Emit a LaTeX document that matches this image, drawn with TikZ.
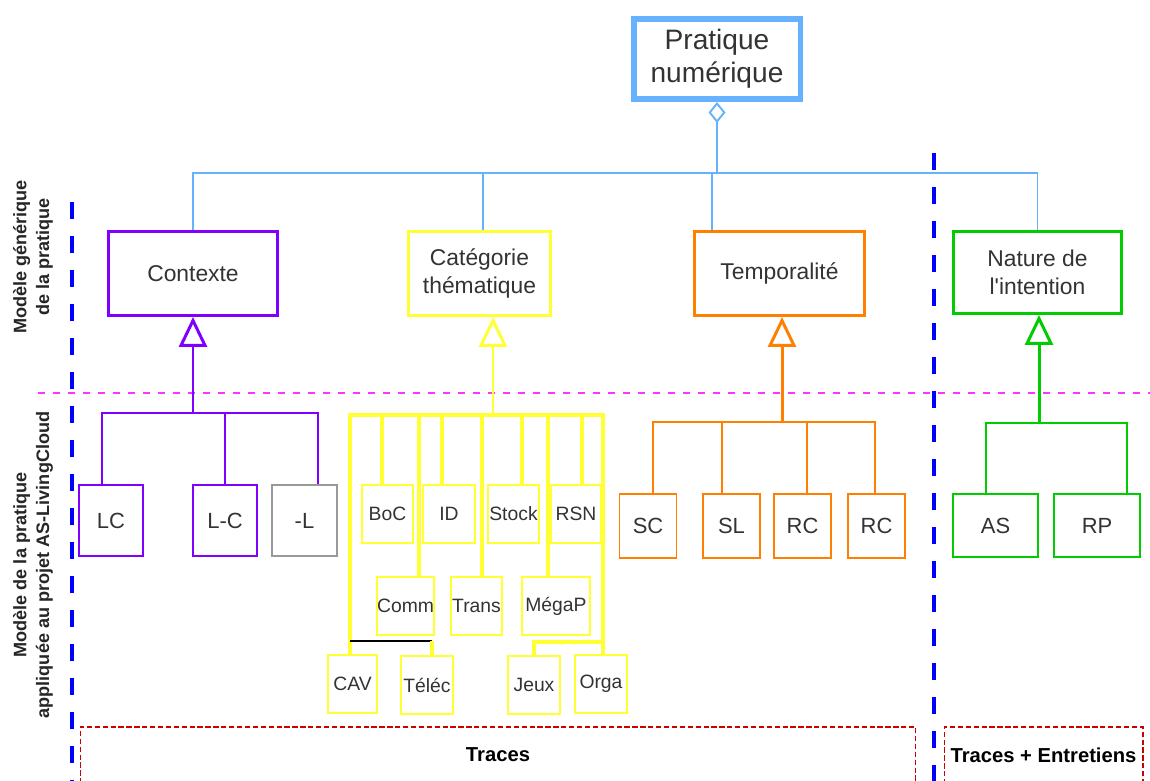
\documentclass[tikz,border=0pt]{standalone}
\usepackage{fontspec}
\setmainfont{Liberation Sans}[Ligatures=TeXOff]
\usetikzlibrary{positioning, arrows.meta}

\definecolor{linkblue}{RGB}{102,178,255}
\definecolor{ctxpurple}{RGB}{127,0,255}
\definecolor{catyellow}{RGB}{255,255,51}
\definecolor{tmporange}{RGB}{255,128,0}
\definecolor{natgreen}{RGB}{0,204,0}
\definecolor{sepblue}{RGB}{0,0,255}
\definecolor{sepmagenta}{RGB}{255,51,255}
\definecolor{tracered}{RGB}{204,0,0}
\definecolor{txtgray}{RGB}{51,51,51}

\begin{document}
\begin{tikzpicture}[
        x=0.02cm, y=-0.02cm,
        box/.style={rectangle, draw, fill=white, inner sep=0pt, text=txtgray, align=center},
        topbox/.style={box, draw=linkblue, line width=3.4pt, minimum width=3.34cm, minimum height=1.6cm, font=\fontsize{16}{19}\selectfont},
        catbox/.style={box, line width=1.7pt, minimum height=1.68cm, font=\fontsize{13}{16}\selectfont},
        subbox/.style={box, line width=0.7pt, font=\fontsize{12.5}{15}\selectfont},
        ybox/.style={box, draw=catyellow, line width=0.8pt, minimum height=1.16cm, font=\fontsize{11}{13}\selectfont},
        tracebox/.style={rectangle, draw=tracered, dash pattern=on 3pt off 1.5pt, line width=0.6pt, inner sep=0pt, font=\bfseries\fontsize{11.5}{14}\selectfont},
        sidelabel/.style={rotate=90, align=center, text=black!85, font=\bfseries\fontsize{10.3}{13}\selectfont},
        bline/.style={draw=linkblue, line width=1.1pt},
        agg/.style={bline, -{Diamond[open, length=0.42cm, width=0.34cm]}},
        gen/.style={line width=1.7pt, -{Triangle[open, length=0.6cm, width=0.56cm]}},
        tree/.style={line width=1.1pt},
        yline/.style={draw=catyellow, line width=1.9pt},
        sepline/.style={draw=sepblue, line width=2.6pt, dash pattern=on 0.34cm off 0.34cm},
        midline/.style={draw=sepmagenta, line width=1.2pt, dash pattern=on 0.15cm off 0.15cm}
    ]
        \useasboundingbox (0,0) rectangle (1150,781);

        % Separators
        \draw[midline] (38,393) -- (1150,393);
        \draw[sepline] (72,202) -- (72,781);
        \draw[sepline] (934,153) -- (934,781);

        % Side labels
        \node[sidelabel] (genlabel) at (33,257) {Modèle générique\\de la pratique};
        \node[sidelabel] (applabel) at (33,565) {Modèle de la pratique\\appliquée au projet AS-LivingCloud};

        % Root
        \node[topbox] (top) at (717,59) {Pratique\\numérique};

        % Generic model
        \node[catbox, draw=ctxpurple, minimum width=3.38cm] (ctx) at (193,273.5) {Contexte};
        \node[catbox, draw=catyellow, minimum width=2.84cm] (cat) at (479.5,273.5) {Catégorie\\thématique};
        \node[catbox, draw=tmporange, minimum width=3.4cm] (tmp) at (779.5,273.5) {Temporalité};
        \node[catbox, draw=natgreen, minimum width=3.36cm, minimum height=1.64cm] (nat) at (1037.5,272.5) {Nature de\\l'intention};

        % Aggregation to the root
        \coordinate (topbus) at (717,173);
        \draw[agg] (topbus) -- (top.south);
        \draw[bline] (topbus) -| (ctx.north);
        \draw[bline] (topbus) -| ([xshift=0.07cm]cat.north);
        \draw[bline] (topbus) -| ([xshift=-1.35cm]tmp.north);
        \draw[bline] (topbus) -| (nat.north);

        % Contexte children
        \node[subbox, draw=ctxpurple, minimum width=1.28cm, minimum height=1.42cm] (lc) at (111,520.5) {LC};
        \node[subbox, draw=ctxpurple, minimum width=1.28cm, minimum height=1.42cm] (lmc) at (225,520.5) {L-C};
        \node[subbox, draw=black!40, minimum width=1.3cm, minimum height=1.42cm] (ml) at (304.5,520.5) {-L};
        \coordinate (ctxbus) at (193,413);
        \draw[gen, draw=ctxpurple] (ctxbus) -- (ctx.south);
        \foreach \nm/\dx in {lc/-9, lmc/0, ml/13.5} {
            \draw[tree, draw=ctxpurple] (ctxbus) -| ([xshift=\dx*0.02cm]\nm.north);
        }

        % Categorie children
        \foreach \nm/\x/\y/\w/\txt in {boc/387.5/514/51/BoC, id/449/514/52/ID, stock/513.5/514/51/Stock,
            rsn/576/514/50/RSN, comm/405.5/606/57/Comm, trans/476.5/606/51/Trans, megap/556/606/68/MégaP,
            cav/352.5/684/49/CAV, telec/427/685/52/Téléc, jeux/534/685/52/Jeux, orga/601/684/52/Orga} {
            \node[ybox, minimum width=\w*0.02cm] (\nm) at (\x,\y) {\txt};
        }
        \coordinate (catbus) at (493,415);
        \draw[gen, draw=catyellow] (catbus) -- (catbus |- cat.south);
        \foreach \nm/\dx in {boc/-5.5, comm/13.5, id/-7, trans/5.5, stock/8.5, megap/-8, rsn/6, cav/-2.5, orga/2} {
            \draw[yline] (catbus) -| ([xshift=\dx*0.02cm]\nm.north);
        }
        \coordinate (telbend) at (350,641);
        \coordinate (telturn) at (432,641);
        \draw[yline] (catbus) -| (telbend);
        \draw[line width=1.6pt] (telbend) -- (telturn);
        \draw[yline] (telturn) -- (telturn |- telec.north);
        \coordinate (jeuxbend) at (603,642);
        \draw[yline] (catbus) -| (jeuxbend) -| (jeux.north);

        % Temporalite children
        \foreach \nm/\x/\txt in {sc/648/SC, sl/731.5/SL, rca/802.5/RC, rcb/876.5/RC} {
            \node[subbox, draw=tmporange, minimum width=1.14cm, minimum height=1.28cm] (\nm) at (\x,526) {\txt};
        }
        \coordinate (tmpbus) at (782,422);
        \draw[gen, draw=tmporange] (tmpbus) -- (tmpbus |- tmp.south);
        \foreach \nm/\dx in {sc/5, sl/-9.5, rca/4.5, rcb/-1.5} {
            \draw[tree, draw=tmporange] (tmpbus) -| ([xshift=\dx*0.02cm]\nm.north);
        }

        % Nature children
        \node[subbox, draw=natgreen, minimum width=1.7cm, minimum height=1.26cm] (as) at (995.5,525.5) {AS};
        \node[subbox, draw=natgreen, minimum width=1.72cm, minimum height=1.26cm] (rp) at (1097,525.5) {RP};
        \coordinate (natbus) at (1039,423);
        \draw[gen, draw=natgreen] (natbus) -- (natbus |- nat.south);
        \draw[line width=1.5pt, draw=natgreen] (natbus) -| ([xshift=-0.19cm]as.north);
        \draw[line width=1.5pt, draw=natgreen] (natbus) -| ([xshift=0.6cm]rp.north);

        % Data sources
        \node[tracebox, minimum width=16.72cm, minimum height=1.12cm] (trc) at (498,755) {Traces};
        \node[tracebox, minimum width=3.98cm, minimum height=1.12cm] (trcent) at (1043.5,755) {Traces + Entretiens};
    \end{tikzpicture}
\end{document}
